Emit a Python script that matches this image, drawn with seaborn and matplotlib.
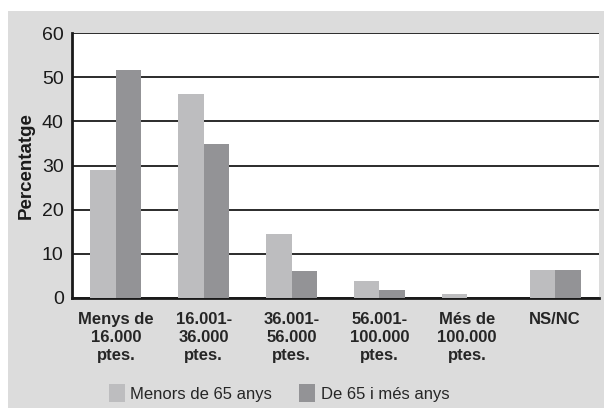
import numpy as np
import pandas as pd
import matplotlib
matplotlib.use("Agg")
import matplotlib.pyplot as plt
import seaborn as sns
from matplotlib import font_manager
from matplotlib.patches import Rectangle, Patch

# data
categories = ["Menys de\n16.000\nptes.", "16.001-\n36.000\nptes.", "36.001-\n56.000\nptes.",
              "56.001-\n100.000\nptes.", "Més de\n100.000\nptes.", "NS/NC"]
menors_65 = [28.9, 46.1, 14.5, 3.9, 1.0, 6.4]
de_65_mes = [51.6, 34.8, 6.1, 1.8, 0.0, 6.4]
series = ["Menors de 65 anys", "De 65 i més anys"]
colors = ["#bdbdbf", "#939396"]

df = pd.DataFrame({
    "cat": categories * 2,
    "grup": [series[0]] * 6 + [series[1]] * 6,
    "pct": menors_65 + de_65_mes,
})

sns.set_style("white")
plt.rcParams["font.family"] = ["Liberation Sans", "DejaVu Sans"]

names = {f.name for f in font_manager.fontManager.ttflist}
narrow = "Liberation Sans Narrow" in names
tick_family = ["Liberation Sans Narrow"] if narrow else ["Liberation Sans"]
tick_size = 13.5 if narrow else 12

fig = plt.figure(figsize=(6.04, 4.08), dpi=100)
fig.patch.set_facecolor("white")
# grey panel behind the chart
fig.patches.append(Rectangle((8 / 604, 0), 596 / 604, 397 / 408, transform=fig.transFigure,
                             facecolor="#dcdcdc", edgecolor="none", zorder=-10))

ax = fig.add_axes([72 / 604, 110 / 408, 527 / 604, 265 / 408])
ax.set_facecolor("white")
sns.barplot(data=df, x="cat", y="pct", hue="grup", palette=colors, width=0.58,
            saturation=1, ax=ax, legend=False, zorder=3, linewidth=0, edgecolor="none")

ax.set_ylim(0, 60)
ax.set_xlim(-0.5, 5.5)
ax.set_yticks(range(0, 61, 10))
ax.grid(axis="y", color="#1a1a1a", linewidth=1.3, zorder=0)
ax.set_axisbelow(True)
for s in ["top", "right"]:
    ax.spines[s].set_visible(False)
for s in ["left", "bottom"]:
    ax.spines[s].set_color("#1a1a1a")
    ax.spines[s].set_linewidth(2)

ax.set_xticks(np.arange(-0.5, 6, 1), minor=False)
ax.set_xticklabels([])
ax.set_xticks(np.arange(0, 6, 1), minor=True)
ax.set_xticklabels(categories, minor=True, fontweight="bold", fontsize=tick_size,
                   family=tick_family, linespacing=1.25)
ax.tick_params(axis="x", which="minor", length=0, pad=10)
ax.tick_params(axis="x", which="major", length=4, width=1.5, color="#1a1a1a", direction="out")
ax.tick_params(axis="y", length=4, width=1.5, color="#1a1a1a", labelsize=14, pad=2)
for lab in ax.get_yticklabels():
    lab.set_color("#1a1a1a")

ax.set_xlabel("")
ax.set_ylabel("Percentatge", fontweight="bold", fontsize=13.5, labelpad=5, color="#1a1a1a")

handles = [Patch(facecolor=c, edgecolor="none") for c in colors]
fig.legend(handles, series, loc="center", bbox_to_anchor=(279 / 604, 15 / 408), ncol=2,
           frameon=False, fontsize=12, handlelength=0.95, handleheight=1.35,
           handletextpad=0.35, columnspacing=1.6)

fig.savefig("out.png", dpi=100)
